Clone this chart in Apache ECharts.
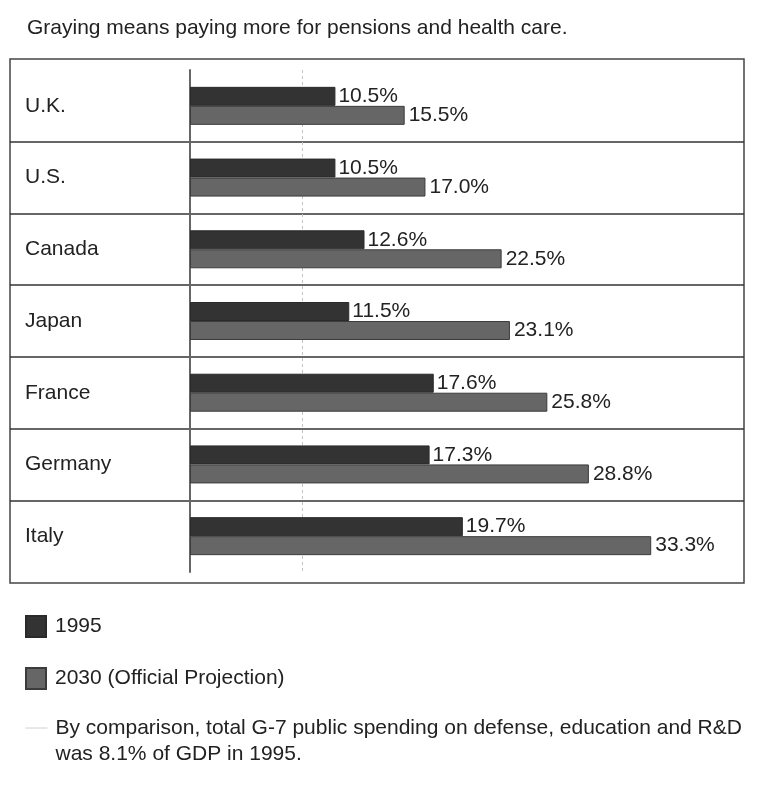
<!DOCTYPE html>
<html>
<head>
<meta charset="utf-8">
<script src="https://cdn.jsdelivr.net/npm/echarts@6/dist/echarts.min.js"></script>
<style>html,body{margin:0;padding:0;background:#fff;}#chart{width:760px;height:785px;}</style>
</head>
<body>
<div id="chart"></div>
<script>
var titleText = 'Graying means paying more for pensions and health care.';
var categories = ['U.K.', 'U.S.', 'Canada', 'Japan', 'France', 'Germany', 'Italy'];
var values1995 = [10.5, 10.5, 12.6, 11.5, 17.6, 17.3, 19.7];
var values2030 = [15.5, 17.0, 22.5, 23.1, 25.8, 28.8, 33.3];
var seriesNames = ['1995', '2030 (Official Projection)'];
var referenceValue = 8.1;
var noteText = 'By comparison, total G-7 public spending on defense, education and R&D\nwas 8.1% of GDP in 1995.';

var FONT = 'Liberation Sans, Arial, sans-serif';
var chart = echarts.init(document.getElementById('chart'), null, {renderer: 'canvas'});

function pct(p) { return p.value.toFixed(1) + '%'; }

var option = {
  animation: false,
  backgroundColor: '#fff',
  textStyle: {fontFamily: FONT},
  title: {
    text: titleText, left: 27, top: 18, padding: 0,
    textStyle: {fontFamily: FONT, fontSize: 21, fontWeight: 'normal', color: '#222'}
  },
  legend: [
    {
      data: seriesNames, orient: 'vertical', left: 25, top: 615, padding: 0,
      itemWidth: 20, itemHeight: 21, itemGap: 29, icon: 'rect', selectedMode: false,
      textStyle: {fontFamily: FONT, fontSize: 21, color: '#222', padding: [0, 0, 0, 4]}
    },
    {
      data: [noteText], orient: 'vertical', left: 25, top: 689, padding: 0,
      itemWidth: 22, itemHeight: 21, selectedMode: false,
      formatter: function (name) { return '\n' + name; },
      itemStyle: {opacity: 0},
      lineStyle: {color: '#d0d0d0', width: 1},
      textStyle: {fontFamily: FONT, fontSize: 21, color: '#222', lineHeight: 26, padding: [0, 0, 0, 3]}
    }
  ],
  grid: [
    {left: 190, top: 70, width: 554, height: 502, containLabel: false},
    {left: 10, top: 70, width: 734, height: 502, containLabel: false},
    {left: 10, top: 59, width: 734, height: 524, show: true, borderColor: '#444', borderWidth: 1.5, backgroundColor: 'transparent'}
  ],
  xAxis: [
    {gridIndex: 0, type: 'value', min: 0, max: 40, show: false},
    {gridIndex: 1, type: 'value', min: 0, max: 1, show: false},
    {gridIndex: 2, type: 'value', min: 0, max: 1, show: false}
  ],
  yAxis: [
    {
      gridIndex: 0, type: 'category', data: categories, inverse: true,
      axisLine: {show: true, lineStyle: {color: '#666', width: 2}},
      axisTick: {show: false}, axisLabel: {show: false}, splitLine: {show: false}
    },
    {
      gridIndex: 1, type: 'category', data: categories, inverse: true,
      axisLine: {show: false}, axisTick: {show: false},
      axisLabel: {show: true, inside: true, margin: 15, fontFamily: FONT, fontSize: 21, color: '#222'},
      splitLine: {show: true, showMinLine: false, showMaxLine: false, lineStyle: {color: '#333', width: 1.5}}
    },
    {gridIndex: 2, type: 'value', min: 0, max: 1, show: false}
  ],
  series: [
    {
      name: seriesNames[0], type: 'bar', xAxisIndex: 0, yAxisIndex: 0, z: 2,
      data: values1995, barWidth: 19, barGap: '0%',
      itemStyle: {color: '#333', borderColor: '#2a2a2a', borderWidth: 1},
      label: {show: true, position: 'right', distance: 3, formatter: pct, fontFamily: FONT, fontSize: 21, color: '#222'},
      markLine: {
        z: 1, silent: true, symbol: 'none', label: {show: false},
        lineStyle: {type: [3, 3], color: '#c4c4c4', width: 1},
        data: [{xAxis: referenceValue}]
      }
    },
    {
      name: seriesNames[1], type: 'bar', xAxisIndex: 0, yAxisIndex: 0, z: 2,
      data: values2030, barWidth: 19, barGap: '0%',
      itemStyle: {color: '#666', borderColor: '#3c3c3c', borderWidth: 1},
      label: {show: true, position: 'right', distance: 4, formatter: pct, fontFamily: FONT, fontSize: 21, color: '#222'}
    },
    {
      name: noteText, type: 'line', xAxisIndex: 0, yAxisIndex: 0, data: [],
      symbol: 'none', showSymbol: false, itemStyle: {color: '#d0d0d0', opacity: 0},
      lineStyle: {color: '#d0d0d0', width: 1}
    }
  ]
};
chart.setOption(option);
</script>
</body>
</html>
